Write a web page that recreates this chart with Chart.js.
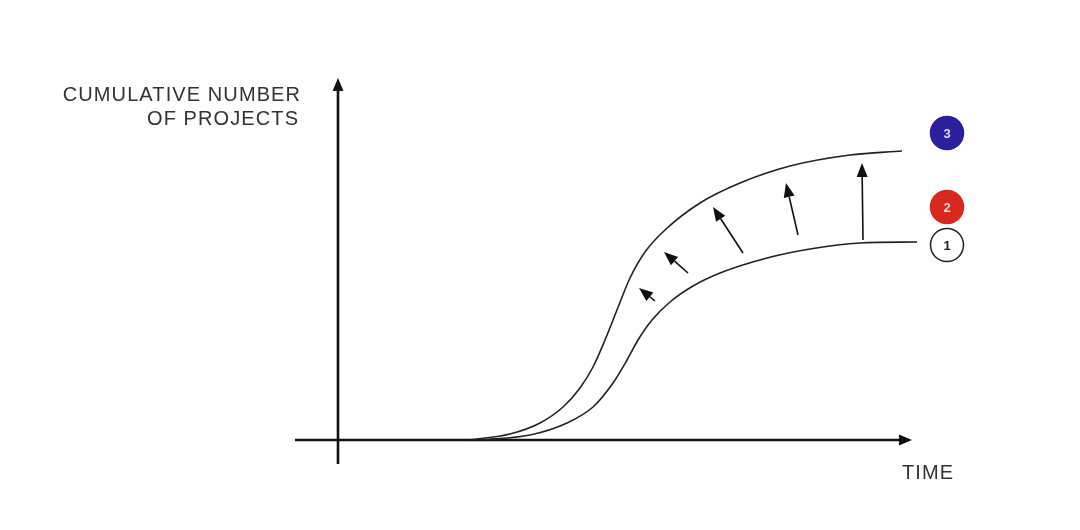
<!DOCTYPE html>
<html>
<head>
<meta charset="utf-8">
<script src="https://cdn.jsdelivr.net/npm/chart.js@4"></script>
<style>
  html, body { margin: 0; padding: 0; background: #ffffff; }
  #wrap { width: 1080px; height: 530px; }
</style>
</head>
<body>
<div id="wrap"><canvas id="c" width="1080" height="530"></canvas></div>
<script>
// ---- data (time units on x, cumulative projects on y) ----
const curve1X = [14.2, 19.2, 22.9, 25.5, 27.5, 28.9, 30.0, 31.4, 33.2, 35.5, 38.2, 42.9, 47.2, 52.2, 57.9];
const curve1Y = [0, 0.5, 1.7, 3.3, 5.7, 8.0, 10.0, 12.0, 13.8, 15.4, 16.7, 18.2, 19.1, 19.7, 19.8];

const curve3X = [13.2, 17.2, 20.2, 22.5, 24.2, 25.5, 26.7, 27.9, 29.2, 30.7, 32.7, 36.2, 40.2, 45.2, 51.2, 56.4];
const curve3Y = [0, 0.6, 1.7, 3.3, 5.2, 7.3, 10.0, 13.0, 16.2, 18.8, 21.0, 23.7, 25.7, 27.4, 28.5, 28.9];

// shift arrows between the two curves
const shiftFromX = [52.5, 46.0, 40.5, 35.0, 31.7];
const shiftFromY = [20.0, 20.5, 18.7, 16.7, 13.9];
const shiftToX   = [52.4, 44.8, 37.5, 32.6, 30.1];
const shiftToY   = [27.7, 25.7, 23.3, 18.8, 15.2];

// axes (drawn as arrows)
const axisXRange = [-4.3, 57.4];
const axisYRange = [-2.4, 36.2];

// numbered markers
const markerLabels = ["3", "2", "1"];
const markerX = [60.9, 60.9, 60.9];
const markerY = [30.7, 23.3, 19.5];
const markerFill = ["#2b1f9b", "#d8281f", "#ffffff"];
const markerText = ["#d9d6f0", "#f6d0cc", "#222222"];
const markerBorder = ["#2b1f9b", "#d8281f", "#222222"];

const yTitle = ["CUMULATIVE NUMBER", "OF PROJECTS"];
const xTitle = "TIME";

const toPts = (xs, ys) => xs.map((x, i) => ({ x: x, y: ys[i] }));

function drawArrow(ctx, x0, y0, x1, y1, lw, headLen, headW, color) {
  const ang = Math.atan2(y1 - y0, x1 - x0);
  const bx = x1 - headLen * Math.cos(ang);
  const by = y1 - headLen * Math.sin(ang);
  ctx.save();
  ctx.strokeStyle = color;
  ctx.fillStyle = color;
  ctx.lineWidth = lw;
  ctx.lineCap = 'butt';
  ctx.beginPath();
  ctx.moveTo(x0, y0);
  ctx.lineTo(bx, by);
  ctx.stroke();
  ctx.beginPath();
  ctx.moveTo(x1, y1);
  ctx.lineTo(bx + (headW / 2) * Math.sin(ang), by - (headW / 2) * Math.cos(ang));
  ctx.lineTo(bx - (headW / 2) * Math.sin(ang), by + (headW / 2) * Math.cos(ang));
  ctx.closePath();
  ctx.fill();
  ctx.restore();
}

const diagramPlugin = {
  id: 'diagram',
  beforeDatasetsDraw(chart) {
    const ctx = chart.ctx;
    const xs = chart.scales.x, ys = chart.scales.y;
    drawArrow(ctx, xs.getPixelForValue(axisXRange[0]), ys.getPixelForValue(0),
              xs.getPixelForValue(axisXRange[1]), ys.getPixelForValue(0), 2.6, 13, 11, '#111');
    drawArrow(ctx, xs.getPixelForValue(0), ys.getPixelForValue(axisYRange[0]),
              xs.getPixelForValue(0), ys.getPixelForValue(axisYRange[1]), 2.6, 13, 11, '#111');
  },
  afterDatasetsDraw(chart) {
    const ctx = chart.ctx;
    const xs = chart.scales.x, ys = chart.scales.y;
    for (let i = 0; i < shiftFromX.length; i++) {
      drawArrow(ctx, xs.getPixelForValue(shiftFromX[i]), ys.getPixelForValue(shiftFromY[i]),
                xs.getPixelForValue(shiftToX[i]), ys.getPixelForValue(shiftToY[i]), 1.6, 14, 11, '#111');
    }
    const meta = chart.getDatasetMeta(2);
    ctx.save();
    ctx.font = 'bold 13px "Liberation Sans", Arial, sans-serif';
    ctx.textAlign = 'center';
    ctx.textBaseline = 'middle';
    meta.data.forEach((pt, i) => {
      ctx.fillStyle = markerText[i];
      ctx.fillText(markerLabels[i], pt.x, pt.y + 1);
    });
    ctx.fillStyle = '#333333';
    ctx.font = '20px "Liberation Sans", Arial, sans-serif';
    ctx.letterSpacing = '1.1px';
    ctx.textBaseline = 'alphabetic';
    ctx.textAlign = 'right';
    const tx = xs.getPixelForValue(-3.8) + 1.1;
    ctx.fillText(yTitle[0], tx, ys.getPixelForValue(33.9));
    ctx.fillText(yTitle[1], tx - 2, ys.getPixelForValue(31.5));
    ctx.textAlign = 'left';
    ctx.fillText(xTitle, xs.getPixelForValue(56.4), ys.getPixelForValue(-3.9));
    ctx.restore();
  }
};

new Chart(document.getElementById('c'), {
  type: 'scatter',
  data: {
    datasets: [
      {
        data: toPts(curve1X, curve1Y),
        showLine: true,
        borderColor: '#222222',
        borderWidth: 1.6,
        pointRadius: 0,
        cubicInterpolationMode: 'monotone',
        clip: false
      },
      {
        data: toPts(curve3X, curve3Y),
        showLine: true,
        borderColor: '#222222',
        borderWidth: 1.6,
        pointRadius: 0,
        cubicInterpolationMode: 'monotone',
        clip: false
      },
      {
        data: toPts(markerX, markerY),
        showLine: false,
        pointRadius: 16.5,
        pointHoverRadius: 16.5,
        pointBackgroundColor: markerFill,
        pointBorderColor: markerBorder,
        pointBorderWidth: 1.5,
        clip: false
      }
    ]
  },
  options: {
    responsive: false,
    animation: false,
    events: [],
    layout: { padding: { left: 288, right: 42, top: 40, bottom: 40 } },
    plugins: { legend: { display: false }, tooltip: { enabled: false } },
    scales: {
      x: { type: 'linear', min: -5, max: 70, display: false },
      y: { type: 'linear', min: -5, max: 40, display: false }
    }
  },
  plugins: [diagramPlugin]
});
</script>
</body>
</html>
